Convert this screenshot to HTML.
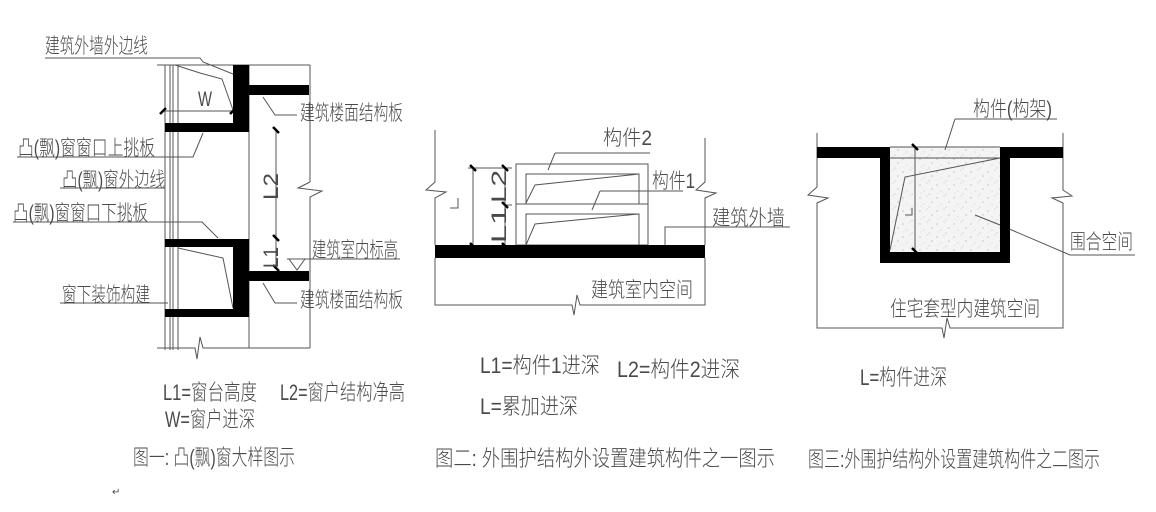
<!DOCTYPE html>
<html><head><meta charset="utf-8"><style>
html,body{margin:0;padding:0;background:#fff;}
svg{display:block;}
text{font-family:"Liberation Sans","Noto Sans CJK SC",sans-serif;fill:#4a4a4a;font-weight:300;}
</style></head><body>
<svg width="1156" height="512" viewBox="0 0 1156 512" xmlns="http://www.w3.org/2000/svg">
<defs>
<pattern id="sp" width="17" height="13" patternUnits="userSpaceOnUse">
<rect width="17" height="13" fill="#f4f4f4"/>
<circle cx="2" cy="3" r="0.6" fill="#aaa"/><circle cx="9" cy="1" r="0.5" fill="#bbb"/>
<circle cx="14" cy="7" r="0.6" fill="#aaa"/><circle cx="6" cy="9" r="0.5" fill="#bbb"/>
<circle cx="11" cy="12" r="0.5" fill="#aaa"/><circle cx="3" cy="11" r="0.4" fill="#bbb"/>
</pattern>
</defs>
<g stroke="#555" stroke-width="1" fill="none">
<!-- FIG 1 -->
<line x1="157" y1="65" x2="310" y2="65"/>
<line x1="310" y1="65" x2="310" y2="182"/>
<polyline points="310,182 298,188 322,191 310,197 310,348"/>
<line x1="165" y1="65" x2="165" y2="350"/>
<line x1="170" y1="65" x2="170" y2="350"/>
<line x1="173" y1="65" x2="173" y2="350"/>
<line x1="178" y1="65" x2="178" y2="350"/>
<line x1="249" y1="65" x2="249" y2="348"/>
<polyline points="157,348 195,348 197,359 200,337 203,348 310,348"/>
<polyline points="175,65 200,73 222,79 233,110"/>
<polyline points="178,248 223,258 233,308"/>
<polyline points="45,58 200,58 203,62 233,74"/>
<line x1="163" y1="111" x2="233" y2="111"/>
<line x1="276" y1="130" x2="276" y2="268"/>
<polyline points="263,97 275,115 297,115"/>
<polyline points="17,157 193,157 203,133"/>
<line x1="60" y1="188" x2="165" y2="188"/>
<polyline points="13,222 202,222 218,238"/>
<line x1="287" y1="259" x2="400" y2="259"/>
<polyline points="289,259 297,270 305,259"/>
<line x1="60" y1="303" x2="168" y2="303"/>
<polyline points="263,283 275,303 297,303"/>
<!-- FIG 2 -->
<polyline points="435,130 435,182 426,190 446,192 435,198 435,245"/>
<polyline points="705,138 705,182 696,190 716,193 705,198 705,245"/>
<polyline points="435,258 435,305 572,305 574,315 577,295 580,305 705,305 705,258"/>
<rect x="516" y="164" width="132" height="81"/>
<line x1="516" y1="204" x2="648" y2="204"/>
<polyline points="526,204 526,174 639,174 639,204"/>
<polyline points="526,245 526,214 639,214 639,245"/>
<polyline points="526,203 535,185 639,174"/>
<polyline points="526,245 535,224 639,214"/>
<line x1="473" y1="168" x2="473" y2="245"/>
<line x1="505" y1="168" x2="505" y2="245"/>
<line x1="468" y1="168" x2="512" y2="168"/>
<line x1="505" y1="205" x2="512" y2="205"/>
<polyline points="450,208 458,208 458,198"/>
<polyline points="555,153 650,153"/><line x1="555" y1="153" x2="548" y2="170"/>
<polyline points="600,191 683,191"/><line x1="600" y1="191" x2="592" y2="210"/>
<polyline points="790,227 665,227 665,245"/>
<!-- FIG 3 -->
<polyline points="817,133 817,187 808,195 828,198 817,203 817,328 942,328 944,338 947,318 950,328 1063,328 1063,203 1052,198 1072,196 1063,190 1063,133"/>
<polyline points="955,119 1057,119"/>
<polyline points="1000,225 1070,255 1135,255"/>
</g>
<!-- black slabs -->
<g fill="#000">
<rect x="233" y="65" width="16" height="67"/>
<rect x="249" y="85" width="60" height="10"/>
<rect x="165" y="123" width="84" height="9"/>
<rect x="165" y="239" width="84" height="8"/>
<rect x="233" y="239" width="16" height="78"/>
<rect x="249" y="271" width="60" height="10"/>
<rect x="165" y="309" width="84" height="8"/>
<rect x="435" y="245" width="270" height="13"/>
<path d="M817,147 H890 V252 H1000 V147 H1063 V158 H1010 V263 H880 V158 H817 Z"/>
</g>
<rect x="890" y="147" width="110" height="105" fill="url(#sp)"/>
<g stroke="#555" fill="none"><line x1="890" y1="147" x2="1000" y2="147"/><line x1="890" y1="158" x2="1000" y2="158"/><line x1="915" y1="147" x2="915" y2="251"/><polyline points="890,250 905,177 1000,158"/><polyline points="905,215 912,215 912,208"/><line x1="945" y1="150" x2="955" y2="119"/><line x1="975" y1="215" x2="1000" y2="225"/></g>
<!-- ticks -->
<g stroke="#000" stroke-width="2.5">
<line x1="160" y1="114" x2="166" y2="108"/><line x1="230" y1="114" x2="236" y2="108"/>
<line x1="273" y1="127" x2="279" y2="133"/><line x1="273" y1="235" x2="279" y2="241"/><line x1="273" y1="265" x2="279" y2="271"/>
<line x1="470" y1="165" x2="476" y2="171"/><line x1="502" y1="165" x2="508" y2="171"/><line x1="502" y1="202" x2="508" y2="208"/>
<line x1="470" y1="243" x2="476" y2="249"/><line x1="502" y1="243" x2="508" y2="249"/>
<line x1="912" y1="144" x2="918" y2="150"/><line x1="912" y1="248" x2="918" y2="254"/>
</g>
<!-- labels -->
<g font-size="21">
<text x="45" y="53" textLength="103" lengthAdjust="spacingAndGlyphs">建筑外墙外边线</text>
<text x="300" y="120" textLength="103" lengthAdjust="spacingAndGlyphs">建筑楼面结构板</text>
<text x="18" y="155" textLength="137" lengthAdjust="spacingAndGlyphs">凸(飘)窗窗口上挑板</text>
<text x="62" y="187" textLength="103" lengthAdjust="spacingAndGlyphs">凸(飘)窗外边线</text>
<text x="13" y="220" textLength="135" lengthAdjust="spacingAndGlyphs">凸(飘)窗窗口下挑板</text>
<text x="312" y="257" textLength="86" lengthAdjust="spacingAndGlyphs">建筑室内标高</text>
<text x="62" y="302" textLength="88" lengthAdjust="spacingAndGlyphs">窗下装饰构建</text>
<text x="300" y="307" textLength="103" lengthAdjust="spacingAndGlyphs">建筑楼面结构板</text>
<text x="198" y="106" textLength="14" lengthAdjust="spacingAndGlyphs">W</text>
<text transform="translate(278,200) rotate(-90)" textLength="27" lengthAdjust="spacingAndGlyphs">L2</text>
<text transform="translate(278,268) rotate(-90)" textLength="21" lengthAdjust="spacingAndGlyphs">L1</text>
<text transform="translate(506,243) rotate(-90)" textLength="36" lengthAdjust="spacingAndGlyphs">L1</text>
<text transform="translate(506,203) rotate(-90)" textLength="33" lengthAdjust="spacingAndGlyphs">L2</text>
<text x="603" y="145" textLength="49" lengthAdjust="spacingAndGlyphs">构件2</text>
<text x="652" y="188" textLength="43" lengthAdjust="spacingAndGlyphs">构件1</text>
<text x="712" y="225" textLength="73" lengthAdjust="spacingAndGlyphs">建筑外墙</text>
<text x="591" y="297" textLength="102" lengthAdjust="spacingAndGlyphs">建筑室内空间</text>
<text x="973" y="116" textLength="79" lengthAdjust="spacingAndGlyphs">构件(构架)</text>
<text x="1070" y="249" textLength="63" lengthAdjust="spacingAndGlyphs">围合空间</text>
<text x="890" y="316" textLength="150" lengthAdjust="spacingAndGlyphs">住宅套型内建筑空间</text>
</g>
<g font-size="22">
<text x="163" y="400" textLength="94" lengthAdjust="spacingAndGlyphs">L1=窗台高度</text>
<text x="280" y="400" textLength="125" lengthAdjust="spacingAndGlyphs">L2=窗户结构净高</text>
<text x="165" y="427" textLength="90" lengthAdjust="spacingAndGlyphs">W=窗户进深</text>
<text x="480" y="373" textLength="120" lengthAdjust="spacingAndGlyphs">L1=构件1进深</text>
<text x="617" y="377" textLength="123" lengthAdjust="spacingAndGlyphs">L2=构件2进深</text>
<text x="480" y="414" textLength="98" lengthAdjust="spacingAndGlyphs">L=累加进深</text>
<text x="860" y="385" textLength="87" lengthAdjust="spacingAndGlyphs">L=构件进深</text>
<text x="133" y="465" textLength="162" lengthAdjust="spacingAndGlyphs">图一: 凸(飘)窗大样图示</text>
<text x="435" y="466" textLength="340" lengthAdjust="spacingAndGlyphs">图二:  外围护结构外设置建筑构件之一图示</text>
<text x="808" y="467" textLength="292" lengthAdjust="spacingAndGlyphs">图三:外围护结构外设置建筑构件之二图示</text>
</g>
<text x="112" y="495" font-size="10">↵</text>
</svg>
</body></html>
